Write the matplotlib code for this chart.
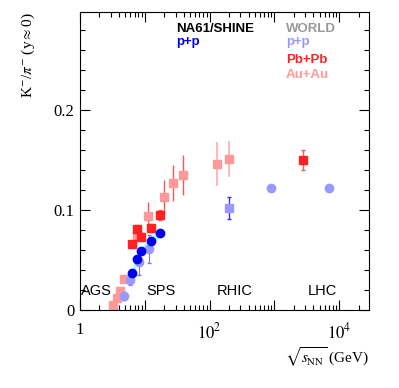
import matplotlib
matplotlib.use('Agg')
import matplotlib.pyplot as plt
from matplotlib.ticker import LogLocator, MultipleLocator, FixedLocator

plt.rcParams['font.family'] = ['Liberation Serif', 'DejaVu Serif']
plt.rcParams['mathtext.fontset'] = 'stix'

# NA61/SHINE p+p
na61_x = [6.3, 7.7, 8.8, 12.3, 17.3]
na61_y = [0.037, 0.051, 0.059, 0.069, 0.077]
na61_err = [0.003, 0.003, 0.003, 0.003, 0.003]

# WORLD p+p (circles)
wpp_x = [4.7, 6.0, 8.2, 11.5, 900, 7000]
wpp_y = [0.014, 0.030, 0.048, 0.061, 0.122, 0.122]
wpp_err = [0.004, 0.005, 0.013, 0.014, 0.0, 0.0]

# WORLD p+p (square, RHIC)
wpp2_x = [200]
wpp2_y = [0.102]
wpp2_err = [0.011]

# Pb+Pb
pb_x = [6.3, 7.6, 8.8, 12.3, 17.3, 2760]
pb_y = [0.066, 0.081, 0.073, 0.082, 0.095, 0.150]
pb_err = [0.003, 0.004, 0.004, 0.004, 0.005, 0.010]

# Au+Au
au_x = [3.2, 3.7, 4.2, 4.8, 7.5, 11.3, 19.6, 27, 39, 130, 200]
au_y = [0.005, 0.012, 0.019, 0.031, 0.075, 0.094, 0.113, 0.127, 0.135, 0.146, 0.151]
au_err = [0.001, 0.002, 0.002, 0.003, 0.006, 0.014, 0.017, 0.018, 0.020, 0.022, 0.018]

fig = plt.figure(figsize=(3.99, 3.88), dpi=100)
ax = fig.add_axes([80 / 399, 78 / 388, 289 / 399, 298 / 388])

# systematic band for NA61
ax.fill_between(na61_x, [v - 0.004 for v in na61_y], [v + 0.004 for v in na61_y],
                color='#99ffff', lw=0, zorder=1)

ax.errorbar(au_x[:9], au_y[:9], yerr=au_err[:9], fmt='s', color='#ff9999', ms=6,
            ecolor='#ff5555', elinewidth=1, capsize=0, zorder=2)
ax.errorbar(au_x[9:], au_y[9:], yerr=au_err[9:], fmt='s', color='#ff9999', ms=6,
            ecolor='#ffbbbb', elinewidth=1.5, capsize=0, zorder=2)
ax.errorbar(wpp_x, wpp_y, yerr=wpp_err, fmt='o', color='#9999ff', ms=6,
            ecolor='#7777ff', elinewidth=0.8, capsize=1.5, zorder=3)
ax.errorbar(wpp2_x, wpp2_y, yerr=wpp2_err, fmt='s', color='#9999ff', ms=6,
            ecolor='#3333ff', elinewidth=1, capsize=1.5, zorder=3)
ax.errorbar(pb_x, pb_y, yerr=pb_err, fmt='s', color='#ff2222', ms=6,
            ecolor='#ff5555', elinewidth=1, capsize=1.5, zorder=4)
ax.errorbar(na61_x, na61_y, yerr=na61_err, fmt='o', color='#0000ee', ms=6,
            ecolor='#0000ee', elinewidth=0.8, capsize=1.5, zorder=5)

ax.set_xscale('log')
ax.set_xlim(1, 29000)
ax.set_ylim(0, 0.298)

ax.xaxis.set_major_locator(FixedLocator([1, 10, 100, 1000, 10000]))
ax.xaxis.set_minor_locator(LogLocator(base=10, subs=range(2, 10)))
ax.set_xticklabels(['1', '', r'$10^{2}$', '', r'$10^{4}$'])
ax.yaxis.set_minor_locator(MultipleLocator(0.02))
ax.yaxis.set_ticks([0, 0.1, 0.2], labels=['0', '0.1', '0.2'])
ax.tick_params(which='both', direction='in', top=True, right=True, labelsize=12)
ax.tick_params(axis='x', pad=9)
ax.tick_params(axis='y', pad=4)
ax.tick_params(which='major', length=7, width=0.8)
ax.tick_params(which='minor', length=3.5, width=0.8)

sans = ['Liberation Sans', 'DejaVu Sans']
for lab, x in [('AGS', 1.05), ('SPS', 10.5), ('RHIC', 130), ('LHC', 3300)]:
    ax.text(x, 0.019, lab, family=sans, fontsize=10.5, va='center')

fig.text(176 / 399, 1 - 29 / 388, 'NA61/SHINE', family=sans, fontweight='bold',
         fontsize=9.5, color='black', va='center')
fig.text(176 / 399, 1 - 42 / 388, 'p+p', family=sans, fontweight='bold',
         fontsize=9.5, color='#0000ee', va='center')
fig.text(286 / 399, 1 - 29 / 388, 'WORLD', family=sans, fontweight='bold',
         fontsize=9.5, color='#999999', va='center')
fig.text(286 / 399, 1 - 42 / 388, 'p+p', family=sans, fontweight='bold',
         fontsize=9.5, color='#9999ff', va='center')
fig.text(286 / 399, 1 - 60 / 388, 'Pb+Pb', family=sans, fontweight='bold',
         fontsize=9.5, color='#ff2222', va='center')
fig.text(286 / 399, 1 - 75 / 388, 'Au+Au', family=sans, fontweight='bold',
         fontsize=9.5, color='#ff9999', va='center')

fig.text(28 / 399, 1 - 12 / 388, r'K$^{-}$/$\pi^{-}$ (y$\approx$0)', rotation=90,
         ha='center', va='top', fontsize=11)
fig.text(369 / 399, 1 - 357 / 388, r'$\sqrt{s_{\mathrm{NN}}}$ (GeV)', ha='right',
         va='center', fontsize=11)

fig.savefig('out.png', dpi=100)
